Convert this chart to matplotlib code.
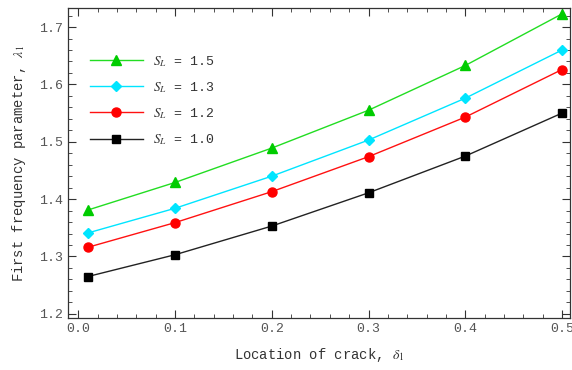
import matplotlib
matplotlib.use("Agg")
import matplotlib.pyplot as plt
from matplotlib.ticker import MultipleLocator

delta = [0.01, 0.1, 0.2, 0.3, 0.4, 0.5]
s15 = [1.381, 1.429, 1.489, 1.555, 1.633, 1.723]
s13 = [1.341, 1.384, 1.440, 1.503, 1.576, 1.660]
s12 = [1.316, 1.359, 1.413, 1.474, 1.543, 1.626]
s10 = [1.265, 1.303, 1.353, 1.411, 1.475, 1.550]
labels = ["1.5", "1.3", "1.2", "1.0"]

plt.rcParams['font.family'] = ['Liberation Mono', 'DejaVu Sans Mono']
plt.rcParams['mathtext.fontset'] = 'stix'

fig = plt.figure(figsize=(5.72, 3.70), dpi=100)
ax = fig.add_axes([0.119, 0.141, 0.878, 0.837])

series = [(s15, '#22dd22', '^', 7), (s13, '#00e5ff', 'D', 5.5), (s12, '#ff1111', 'o', 6.5), (s10, '#222222', 's', 6)]
mcolors = ['#00cc00', '#00e5ff', '#ff0000', '#000000']
for (vals, c, m, ms), lab, mc in zip(series, labels, mcolors):
    ax.plot(delta, vals, color=c, lw=1.0, marker=m, ms=ms, mfc=mc, mec=mc,
            label=r'$S_L$ = ' + lab)

ax.set_xlim(-0.0105, 0.5085)
ax.set_ylim(1.193, 1.733)
ax.xaxis.set_major_locator(MultipleLocator(0.1))
ax.xaxis.set_minor_locator(MultipleLocator(0.02))
ax.yaxis.set_major_locator(MultipleLocator(0.1))
ax.yaxis.set_minor_locator(MultipleLocator(0.02))
ax.xaxis.set_major_formatter(matplotlib.ticker.FormatStrFormatter('%.1f'))
ax.yaxis.set_major_formatter(matplotlib.ticker.FormatStrFormatter('%.1f'))
ax.tick_params(which='both', direction='in', top=True, right=True, labelsize=9.5, colors='#333333', labelcolor='#555555')
ax.tick_params(which='major', length=6, width=0.8)
ax.tick_params(which='minor', length=3, width=0.6)
for s in ax.spines.values():
    s.set_color('#333333')
    s.set_linewidth(0.9)

ax.set_xlabel(r'Location of crack, $\delta_1$', fontsize=10, color='#333333', labelpad=8)
ax.set_ylabel(r'First frequency parameter, $\lambda_1$', fontsize=10, color='#333333', labelpad=8)

leg = ax.legend(loc='upper left', bbox_to_anchor=(0.02, 0.89), frameon=False, fontsize=9.5,
                handlelength=4, labelspacing=0.85, handletextpad=0.8)
for t in leg.get_texts():
    t.set_color('#333333')

fig.savefig('out.png', dpi=100)
